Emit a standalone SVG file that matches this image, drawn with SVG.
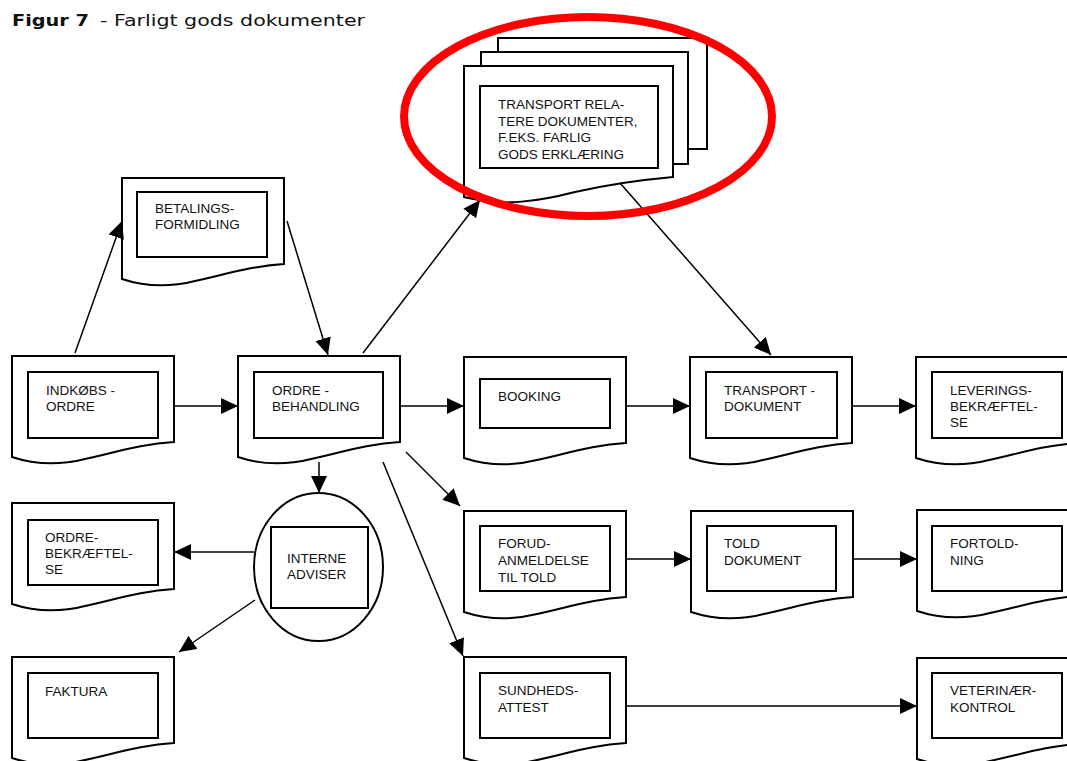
<svg xmlns="http://www.w3.org/2000/svg" xmlns:xlink="http://www.w3.org/1999/xlink" width="1067" height="761" viewBox="0 0 1067 761">
<style>
.doc{fill:#fff;stroke:#000;stroke-width:2;stroke-linejoin:miter}
.in{fill:#fff;stroke:#000;stroke-width:2}
.t{font-family:"Liberation Sans",Arial,sans-serif;font-size:13.5px;fill:#111}
.c line{stroke:#000;stroke-width:1.5;marker-end:url(#ah)}
.ttl{font-family:"DejaVu Sans",Verdana,sans-serif;font-size:15.5px;fill:#111}
</style>
<defs>
<marker id="ah" markerUnits="userSpaceOnUse" markerWidth="18" markerHeight="16" viewBox="0 0 18 16" refX="17" refY="8" orient="auto">
<path d="M0,0 L17,8 L0,16 Z" fill="#000"/>
</marker>
<path id="doc" class="doc" d="M0,0 H162 V86 C130,88 105,96 73,103 C49,109 24,109 0,101 Z"/>
</defs>
<rect width="1067" height="761" fill="#fff"/>
<g id="title">
<text class="ttl" x="12" y="26" font-weight="bold" textLength="77" lengthAdjust="spacingAndGlyphs">Figur 7</text>
<text class="ttl" x="100" y="26" textLength="265" lengthAdjust="spacingAndGlyphs">- Farligt gods dokumenter</text>
</g>

<g id="transport-relaterede">
<rect class="doc" x="498" y="38" width="209" height="111"/>
<rect class="doc" x="481" y="52" width="207" height="112"/>
<path class="doc" d="M464,66 H673 V177 C640,180 610,184 575,192 C540,201 505,207 464,197 Z"/>
<rect class="in" x="480" y="86" width="178" height="82"/>
<text class="t" x="498" y="109">TRANSPORT RELA-</text>
<text class="t" x="498" y="125.5">TERE DOKUMENTER,</text>
<text class="t" x="498" y="142">F.EKS. FARLIG</text>
<text class="t" x="498" y="158.5">GODS ERKLÆRING</text>
</g>

<g id="betalingsformidling">
<use xlink:href="#doc" x="122" y="178"/>
<rect class="in" x="137" y="192" width="130" height="65"/>
<text class="t" x="155" y="213">BETALINGS-</text>
<text class="t" x="155" y="229">FORMIDLING</text>
</g>

<g id="indkobsordre">
<use xlink:href="#doc" x="12" y="356"/>
<rect class="in" x="28" y="372" width="130" height="66"/>
<text class="t" x="46" y="395">INDKØBS -</text>
<text class="t" x="46" y="411">ORDRE</text>
</g>

<g id="ordrebehandling">
<use xlink:href="#doc" x="238" y="356"/>
<rect class="in" x="254" y="372" width="129" height="66"/>
<text class="t" x="272" y="395">ORDRE -</text>
<text class="t" x="272" y="411">BEHANDLING</text>
</g>

<g id="booking">
<use xlink:href="#doc" x="464" y="357"/>
<rect class="in" x="480" y="379" width="130" height="49"/>
<text class="t" x="498" y="401">BOOKING</text>
</g>

<g id="transportdokument">
<use xlink:href="#doc" x="690" y="357"/>
<rect class="in" x="706" y="372" width="131" height="66"/>
<text class="t" x="724" y="395">TRANSPORT -</text>
<text class="t" x="724" y="411">DOKUMENT</text>
</g>

<g id="leveringsbekraeftelse">
<use xlink:href="#doc" x="916" y="357"/>
<rect class="in" x="932" y="372" width="130" height="66"/>
<text class="t" x="950" y="395">LEVERINGS-</text>
<text class="t" x="950" y="411">BEKRÆFTEL-</text>
<text class="t" x="950" y="427">SE</text>
</g>

<g id="ordrebekraeftelse">
<use xlink:href="#doc" x="12" y="503"/>
<rect class="in" x="28" y="520" width="130" height="65"/>
<text class="t" x="45" y="542">ORDRE-</text>
<text class="t" x="45" y="558">BEKRÆFTEL-</text>
<text class="t" x="45" y="574">SE</text>
</g>

<g id="interneadviser">
<ellipse cx="318.5" cy="567" rx="64.5" ry="74" fill="#fff" stroke="#000" stroke-width="2"/>
<rect class="in" x="271" y="527" width="97" height="81"/>
<text class="t" x="287" y="563">INTERNE</text>
<text class="t" x="287" y="579">ADVISER</text>
</g>

<g id="faktura">
<use xlink:href="#doc" x="12" y="657"/>
<rect class="in" x="28" y="673" width="130" height="65"/>
<text class="t" x="45" y="696">FAKTURA</text>
</g>

<g id="forudanmeldelse">
<use xlink:href="#doc" x="464" y="511"/>
<rect class="in" x="480" y="526" width="130" height="65"/>
<text class="t" x="498" y="548">FORUD-</text>
<text class="t" x="498" y="565">ANMELDELSE</text>
<text class="t" x="498" y="582">TIL TOLD</text>
</g>

<g id="tolddokument">
<use xlink:href="#doc" x="691" y="511"/>
<rect class="in" x="707" y="526" width="129" height="65"/>
<text class="t" x="724" y="548">TOLD</text>
<text class="t" x="724" y="565">DOKUMENT</text>
</g>

<g id="fortoldning">
<use xlink:href="#doc" x="917" y="510"/>
<rect class="in" x="932" y="526" width="130" height="65"/>
<text class="t" x="950" y="548">FORTOLD-</text>
<text class="t" x="950" y="565">NING</text>
</g>

<g id="sundhedsattest">
<use xlink:href="#doc" x="464" y="657"/>
<rect class="in" x="480" y="673" width="130" height="65"/>
<text class="t" x="498" y="695">SUNDHEDS-</text>
<text class="t" x="498" y="712">ATTEST</text>
</g>

<g id="veterinaerkontrol">
<use xlink:href="#doc" x="917" y="658"/>
<rect class="in" x="932" y="673" width="130" height="65"/>
<text class="t" x="950" y="695">VETERINÆR-</text>
<text class="t" x="950" y="712">KONTROL</text>
</g>

<g id="connectors" class="c">
<line x1="75" y1="353" x2="122" y2="221"/>
<line x1="287" y1="221" x2="328" y2="355"/>
<line x1="174" y1="406" x2="238" y2="406"/>
<line x1="400" y1="406" x2="464" y2="406"/>
<line x1="626" y1="406" x2="690" y2="406"/>
<line x1="852" y1="406" x2="916" y2="406"/>
<line x1="363" y1="353" x2="480" y2="200"/>
<line x1="620" y1="183" x2="771" y2="355"/>
<line x1="319" y1="462" x2="319" y2="493"/>
<line x1="254" y1="552" x2="174" y2="552"/>
<line x1="255" y1="600" x2="179" y2="652"/>
<line x1="406" y1="452" x2="460" y2="506"/>
<line x1="383" y1="462" x2="463" y2="656"/>
<line x1="626" y1="559" x2="691" y2="559"/>
<line x1="852" y1="559" x2="917" y2="559"/>
<line x1="626" y1="706" x2="917" y2="706"/>
</g>

<g id="highlight">
<ellipse cx="588" cy="116.5" rx="184" ry="99.5" fill="none" stroke="#ff0000" stroke-width="8"/>
</g>
</svg>
